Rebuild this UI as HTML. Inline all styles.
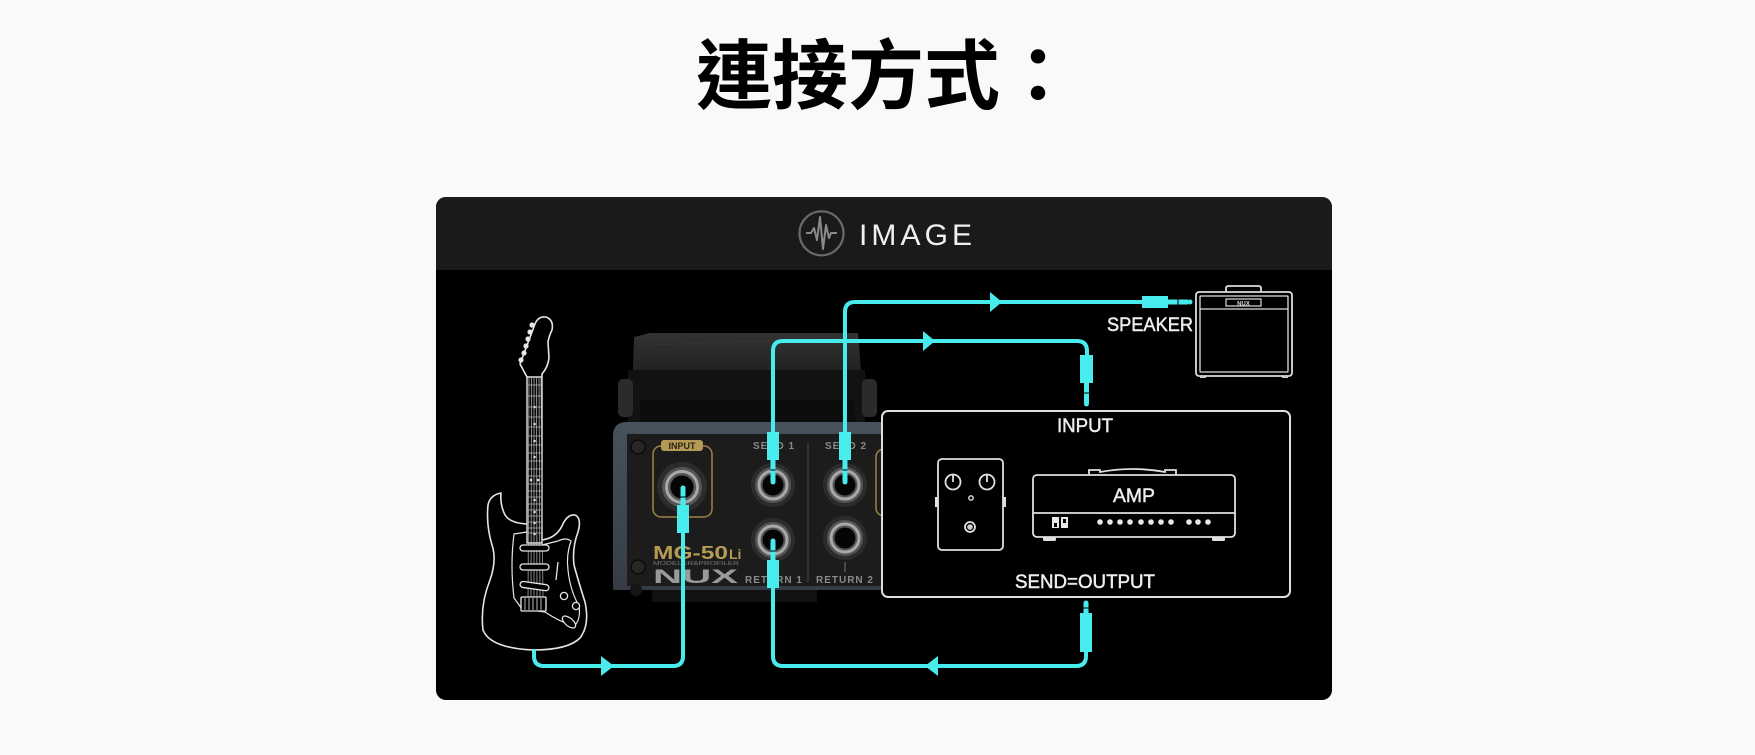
<!DOCTYPE html>
<html><head><meta charset="utf-8">
<style>
html,body{margin:0;padding:0;background:#f9f9f9;}
body{width:1755px;height:755px;overflow:hidden;position:relative;}
svg{position:absolute;left:0;top:0;display:block;}
</style></head><body>
<svg width="1755" height="755" viewBox="0 0 1755 755" xmlns="http://www.w3.org/2000/svg">
<defs>
<clipPath id="card"><rect x="436" y="197" width="896" height="503" rx="10"/></clipPath>
<linearGradient id="slab" x1="0" y1="0" x2="0" y2="1"><stop offset="0" stop-color="#333"/><stop offset="1" stop-color="#222"/></linearGradient>
<linearGradient id="rim" x1="0" y1="0" x2="0" y2="1"><stop offset="0" stop-color="#48525c"/><stop offset="1" stop-color="#353c44"/></linearGradient>
</defs>
<rect width="1755" height="755" fill="#f9f9f9"/>
<text x="696" y="103" font-family="'Liberation Sans','Noto Sans CJK TC',sans-serif" font-weight="700" font-size="76" fill="#000">連接方式：</text>

<g clip-path="url(#card)">
<rect x="436" y="197" width="896" height="503" fill="#000"/>
<rect x="436" y="197" width="896" height="73" fill="#1a1a1a"/>
</g>
<!-- header -->
<circle cx="821.5" cy="233.3" r="22" fill="none" stroke="#6a6a6a" stroke-width="2.2"/>
<path d="M806,233 H811 L814,228 L817,240 L820,217 L823,249 L826,225 L829,238 L831,233 H837" fill="none" stroke="#8a8a8a" stroke-width="2" stroke-linejoin="round"/>
<text x="859" y="245" font-family="'Liberation Sans',sans-serif" font-size="30" fill="#f0f0f0" textLength="113" lengthAdjust="spacing">IMAGE</text>

<!-- guitar -->
<g fill="none" stroke="#e6e6e6" stroke-width="1.6" stroke-linejoin="round" stroke-linecap="round">
 <path d="M527,377 L520,364 L535,324 Q538,316 546,317 Q554,320 552,330 Q549,336 548,342 L549,358 Q548,367 542,374 L542,377" fill="#000"/>
 <path d="M527,524 Q510,523 505,515 Q500,505 501,493 Q490,495 488,505 Q486,525 492,545 Q497,560 490,580 Q480,605 483,630 Q490,648 533,650 Q568,650 580,638 Q590,625 585,602 Q578,580 574,565 Q572,548 578,532 Q582,518 575,515 Q567,514 562,526 Q556,538 542,540" fill="#000"/>
 <path d="M527,532 L514,534 Q510,565 514,598 L522,609 L545,612 Q560,622 574,626 Q581,620 579,606 Q570,590 568,570 Q566,555 571,541 Q566,537 558,541 L542,545" stroke-width="1.2"/>
 <rect x="527" y="377" width="15" height="166" fill="#0a0a0a" stroke-width="1.4"/>
</g>
<g fill="#e6e6e6">
 <circle cx="532" cy="325" r="2.6"/><circle cx="530" cy="332" r="2.6"/><circle cx="528" cy="339" r="2.6"/>
 <circle cx="526" cy="346" r="2.6"/><circle cx="524" cy="353" r="2.6"/><circle cx="521" cy="360" r="2.6"/>
 <circle cx="534.5" cy="407" r="1.3"/><circle cx="534.5" cy="424" r="1.3"/><circle cx="534.5" cy="441" r="1.3"/>
 <circle cx="534.5" cy="457" r="1.3"/><circle cx="531" cy="480" r="1.3"/><circle cx="538" cy="480" r="1.3"/>
 <circle cx="534.5" cy="500" r="1.3"/><circle cx="534.5" cy="512" r="1.3"/><circle cx="534.5" cy="523" r="1.3"/>
 <circle cx="534.5" cy="534" r="1.3"/>
</g>
<g stroke="#bbb" stroke-width="0.7">
 <line x1="527" y1="385" x2="542" y2="385"/><line x1="527" y1="396" x2="542" y2="396"/><line x1="527" y1="407" x2="542" y2="407"/>
 <line x1="527" y1="417" x2="542" y2="417"/><line x1="527" y1="427" x2="542" y2="427"/><line x1="527" y1="436" x2="542" y2="436"/>
 <line x1="527" y1="445" x2="542" y2="445"/><line x1="527" y1="453" x2="542" y2="453"/><line x1="527" y1="461" x2="542" y2="461"/>
 <line x1="527" y1="469" x2="542" y2="469"/><line x1="527" y1="476" x2="542" y2="476"/><line x1="527" y1="484" x2="542" y2="484"/>
 <line x1="527" y1="491" x2="542" y2="491"/><line x1="527" y1="497" x2="542" y2="497"/><line x1="527" y1="504" x2="542" y2="504"/>
 <line x1="527" y1="510" x2="542" y2="510"/><line x1="527" y1="516" x2="542" y2="516"/><line x1="527" y1="522" x2="542" y2="522"/>
 <line x1="527" y1="528" x2="542" y2="528"/><line x1="527" y1="533" x2="542" y2="533"/>
 <line x1="529" y1="377" x2="528" y2="600"/><line x1="531.5" y1="377" x2="531" y2="600"/><line x1="534" y1="377" x2="534" y2="600"/>
 <line x1="536.5" y1="377" x2="537" y2="600"/><line x1="539" y1="377" x2="540" y2="600"/><line x1="541" y1="377" x2="543" y2="600"/>
</g>
<g fill="#000" stroke="#e6e6e6" stroke-width="1.3">
 <rect x="520" y="545" width="29" height="6" rx="3"/>
 <rect x="520" y="564" width="29" height="6" rx="3"/>
 <rect x="520" y="583" width="29" height="6" rx="3" transform="rotate(8 534 586)"/>
 <rect x="521" y="597" width="25" height="14" rx="1"/>
 <circle cx="564" cy="596" r="3.6"/><circle cx="576" cy="606" r="3.6"/>
 <ellipse cx="569" cy="622" rx="8" ry="4" transform="rotate(40 569 622)"/>
 <line x1="558" y1="562" x2="556" y2="580"/>
</g>
<g stroke="#e6e6e6" stroke-width="0.8">
 <line x1="525" y1="598" x2="525" y2="610"/><line x1="529" y1="598" x2="529" y2="610"/><line x1="533" y1="598" x2="533" y2="610"/>
 <line x1="537" y1="598" x2="537" y2="610"/><line x1="541" y1="598" x2="541" y2="610"/>
</g>

<!-- device top -->
<path d="M634,337 L650,333 L858,333 L861,370 L633,370 Z" fill="url(#slab)"/>
<path d="M650,345 L858,338" stroke="#3a3a3a" stroke-width="0.6"/>
<rect x="628" y="370" width="237" height="52" fill="#121212"/>
<rect x="640" y="400" width="215" height="22" fill="#0d0d0d"/>
<rect x="618" y="379" width="15" height="38" rx="5" fill="#2b2b2b"/>
<rect x="862" y="379" width="15" height="38" rx="5" fill="#2b2b2b"/>
<!-- device front -->
<path d="M613,436 Q613,422 627,422 H886 V590 H613 Z" fill="url(#rim)"/>
<rect x="627" y="434" width="259" height="152" fill="#1c1c1c"/>
<rect x="652" y="590" width="165" height="12" fill="#121212"/>
<circle cx="636" cy="590" r="6" fill="#151515"/>
<g>
 <circle cx="638" cy="447" r="7" fill="#262626" stroke="#0c0c0c" stroke-width="1.5"/>
 <circle cx="638" cy="567" r="7" fill="#262626" stroke="#0c0c0c" stroke-width="1.5"/>
</g>
<rect x="653" y="446" width="59" height="71" rx="8" fill="none" stroke="#9b8445" stroke-width="1.5"/>
<rect x="661" y="440" width="42" height="11" rx="3" fill="#b49a55"/>
<text x="682" y="449" font-family="'Liberation Sans',sans-serif" font-weight="700" font-size="9" fill="#2a2412" text-anchor="middle">INPUT</text>
<rect x="876" y="449" width="20" height="67" rx="8" fill="none" stroke="#9b8445" stroke-width="1.5"/>
<line x1="808" y1="443" x2="808" y2="582" stroke="#4a4a4a" stroke-width="1"/>
<line x1="845" y1="562" x2="845" y2="572" stroke="#777" stroke-width="1"/>
<g font-family="'Liberation Sans',sans-serif" font-weight="700" font-size="10" fill="#8a8a8a" text-anchor="middle" letter-spacing="1">
 <text x="774" y="449">SEND 1</text>
 <text x="846" y="449">SEND 2</text>
 <text x="774" y="583">RETURN 1</text>
 <text x="845" y="583">RETURN 2</text>
</g>
<text x="653" y="559" font-family="'Liberation Sans',sans-serif" font-weight="700" font-size="18" fill="#b49a52" textLength="75" lengthAdjust="spacingAndGlyphs">MG-50</text>
<text x="729" y="559" font-family="'Liberation Sans',sans-serif" font-weight="700" font-size="14" fill="#b49a52">Li</text>
<text x="653" y="565" font-family="'Liberation Sans',sans-serif" font-size="5" fill="#777" textLength="86" lengthAdjust="spacingAndGlyphs">MODELER&amp;PROFILER</text>
<text x="653" y="583" font-family="'Liberation Sans',sans-serif" font-weight="900" font-size="19" fill="#9a9a9a" textLength="85" lengthAdjust="spacingAndGlyphs">NUX</text>
<!-- jacks -->
<g>
 <g transform="translate(682,487)"><circle r="25" fill="#2c2c2c"/><circle r="20" fill="#555"/><circle r="15.5" fill="none" stroke="#a8a8a8" stroke-width="3"/><circle r="11.5" fill="#050505"/></g>
 <g transform="translate(773,485)"><circle r="22" fill="#2c2c2c"/><circle r="18" fill="#555"/><circle r="14" fill="none" stroke="#a8a8a8" stroke-width="3"/><circle r="10.5" fill="#050505"/></g>
 <g transform="translate(845,485)"><circle r="22" fill="#2c2c2c"/><circle r="18" fill="#555"/><circle r="14" fill="none" stroke="#a8a8a8" stroke-width="3"/><circle r="10.5" fill="#050505"/></g>
 <g transform="translate(773,540)"><circle r="22" fill="#2c2c2c"/><circle r="18" fill="#555"/><circle r="14" fill="none" stroke="#a8a8a8" stroke-width="3"/><circle r="10.5" fill="#050505"/></g>
 <g transform="translate(845,538)"><circle r="22" fill="#2c2c2c"/><circle r="18" fill="#555"/><circle r="14" fill="none" stroke="#a8a8a8" stroke-width="3"/><circle r="10.5" fill="#050505"/></g>
</g>

<!-- right box -->
<rect x="882" y="411" width="408" height="186" rx="6" fill="#000" stroke="#dedede" stroke-width="2"/>
<g font-family="'Liberation Sans',sans-serif" font-size="19" fill="#eeeeee" stroke="#eeeeee" stroke-width="0.45" text-anchor="middle">
 <text x="1085" y="432" textLength="56" lengthAdjust="spacingAndGlyphs">INPUT</text>
 <text x="1085" y="588" textLength="140" lengthAdjust="spacingAndGlyphs">SEND=OUTPUT</text>
 <text x="1134" y="502" textLength="42" lengthAdjust="spacingAndGlyphs">AMP</text>
 <text x="1193" y="331" text-anchor="end" textLength="86" lengthAdjust="spacingAndGlyphs">SPEAKER</text>
</g>
<!-- pedal -->
<g fill="none" stroke="#e0e0e0" stroke-width="1.8">
 <rect x="938" y="459" width="65" height="91" rx="4"/>
 <circle cx="953" cy="482" r="7.5"/><line x1="953" y1="482" x2="953" y2="474.5"/>
 <circle cx="987" cy="482" r="7.5"/><line x1="987" y1="482" x2="987" y2="474.5"/>
 <circle cx="971" cy="498" r="2.2" stroke-width="1.4"/>
 <circle cx="970" cy="527" r="5"/>
</g>
<circle cx="970" cy="527" r="2.8" fill="#cfcfcf"/>
<rect x="935" y="497" width="3" height="10" fill="#e0e0e0"/>
<rect x="1003" y="497" width="3" height="10" fill="#e0e0e0"/>
<!-- amp -->
<g fill="none" stroke="#e0e0e0" stroke-width="1.8">
 <rect x="1033" y="475" width="202" height="62" rx="4"/>
 <line x1="1033" y1="513" x2="1235" y2="513"/>
 <path d="M1089,475 V470 H1100 V472 Q1133,466 1165,472 V470 H1176 V475"/>
</g>
<rect x="1043" y="537" width="13" height="4" rx="1.5" fill="#e0e0e0"/>
<rect x="1212" y="537" width="13" height="4" rx="1.5" fill="#e0e0e0"/>
<g fill="#e8e8e8">
 <rect x="1052" y="517" width="7" height="11"/><rect x="1061" y="517" width="7" height="11"/>
 <circle cx="1100" cy="522" r="2.8"/><circle cx="1110" cy="522" r="2.8"/><circle cx="1120" cy="522" r="2.8"/><circle cx="1130" cy="522" r="2.8"/>
 <circle cx="1141" cy="522" r="2.8"/><circle cx="1151" cy="522" r="2.8"/><circle cx="1161" cy="522" r="2.8"/><circle cx="1171" cy="522" r="2.8"/>
 <circle cx="1189" cy="522" r="2.8"/><circle cx="1198" cy="522" r="2.8"/><circle cx="1208" cy="522" r="2.8"/>
</g>
<g fill="#000"><rect x="1054" y="523" width="3" height="4"/><rect x="1063" y="519" width="3" height="4"/></g>

<!-- speaker cab -->
<g fill="none" stroke="#dcdcdc" stroke-width="1.8">
 <rect x="1196" y="292" width="96" height="84" rx="3"/>
 <rect x="1200" y="296" width="88" height="76" rx="1" stroke-width="1.3"/>
 <line x1="1200" y1="309" x2="1288" y2="309" stroke-width="1.3"/>
 <path d="M1226,292 V288 Q1226,286 1229,286 H1258 Q1261,286 1261,288 V292"/>
 <rect x="1226" y="299" width="35" height="7" stroke-width="1.2"/>
</g>
<text x="1243.5" y="305.5" font-family="'Liberation Sans',sans-serif" font-weight="700" font-size="6" text-anchor="middle" fill="#ddd">NUX</text>
<rect x="1200" y="376" width="6" height="2" fill="#ccc"/><rect x="1282" y="376" width="6" height="2" fill="#ccc"/>

<!-- cyan connections -->
<g fill="none" stroke="#48ecec" stroke-width="4" stroke-linejoin="round">
 <path d="M534,649 V656 Q534,666 544,666 H673 Q683,666 683,656 V533"/>
 <path d="M1086,652 V656 Q1086,666 1076,666 H783 Q773,666 773,656 V588"/>
 <path d="M773,432 V351 Q773,341 783,341 H1077 Q1087,341 1087,351 V355"/>
 <path d="M845,432 V312 Q845,302 855,302 H1142"/>
</g>
<g fill="#48ecec">
 <polygon points="601,656 614,666 601,676"/>
 <polygon points="938,656 925,666 938,676"/>
 <polygon points="923,331 935,341 923,351"/>
 <polygon points="990,292 1002,302 990,312"/>
 <rect x="677" y="505" width="12" height="28"/><rect x="680.5" y="489" width="5" height="16"/><circle cx="683" cy="488" r="2.5"/>
 <rect x="767" y="432" width="12" height="28"/><rect x="770.5" y="460" width="5" height="21"/><circle cx="773" cy="482" r="2.5"/>
 <rect x="839" y="432" width="12" height="28"/><rect x="842.5" y="460" width="5" height="21"/><circle cx="845" cy="482" r="2.5"/>
 <rect x="767" y="560" width="12" height="28"/><rect x="770.5" y="542" width="5" height="18"/><circle cx="773" cy="541" r="2.5"/>
 <rect x="1080" y="355" width="13" height="28"/><rect x="1084" y="383" width="5" height="20"/><circle cx="1086.5" cy="404" r="2.5"/>
 <rect x="1080" y="613" width="12" height="39"/><rect x="1083.5" y="604" width="5" height="9"/><circle cx="1086" cy="603" r="2.5"/>
 <rect x="1142" y="296" width="26" height="12"/><rect x="1168" y="299.5" width="20" height="5"/><circle cx="1190" cy="302" r="2.5"/>
</g>
<g stroke="#000" stroke-width="1">
 <line x1="770.5" y1="470" x2="775.5" y2="470"/><line x1="842.5" y1="470" x2="847.5" y2="470"/>
 <line x1="680.5" y1="497" x2="685.5" y2="497"/><line x1="770.5" y1="551" x2="775.5" y2="551"/>
 <line x1="1084" y1="393" x2="1089" y2="393"/><line x1="1178" y1="299.5" x2="1178" y2="304.5"/>
 <line x1="1083.5" y1="608" x2="1088.5" y2="608"/>
</g>
</svg>
</body></html>
